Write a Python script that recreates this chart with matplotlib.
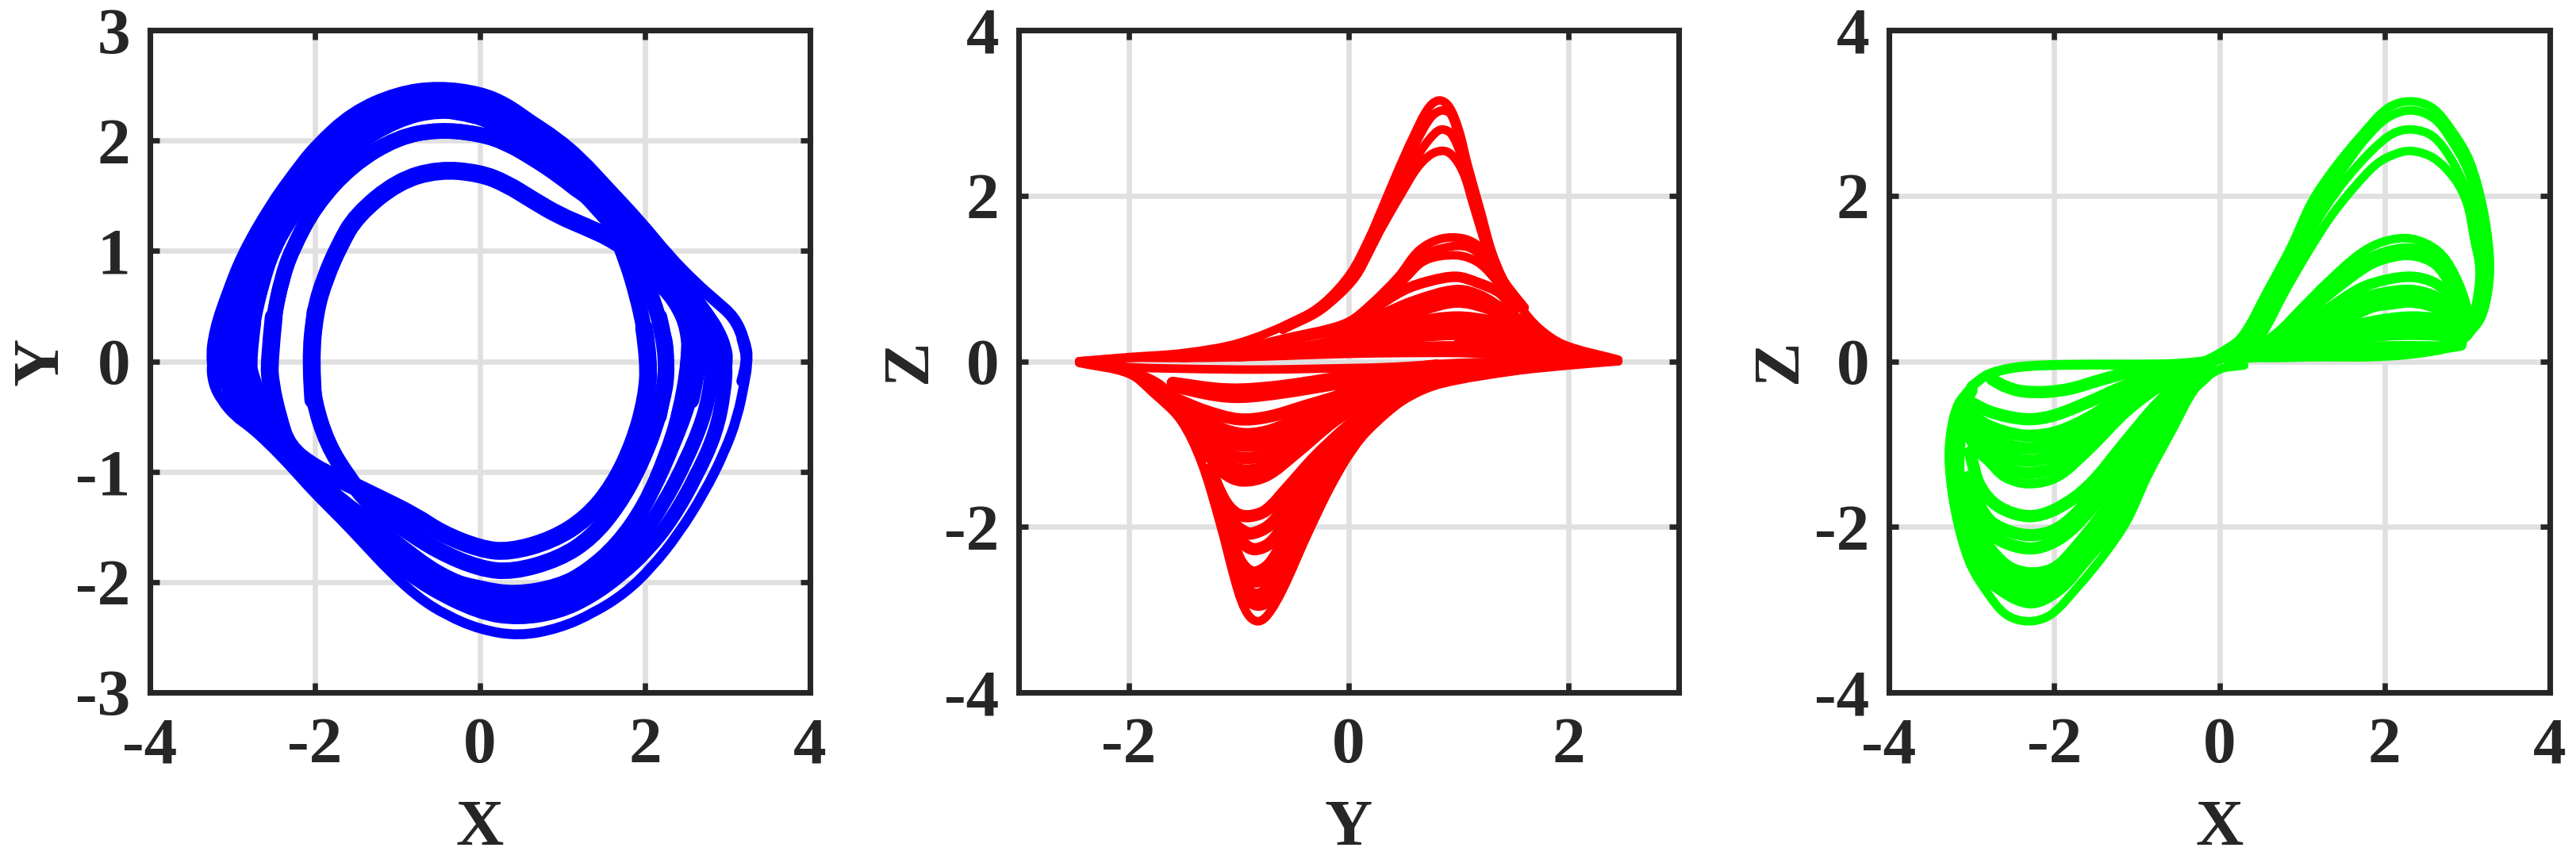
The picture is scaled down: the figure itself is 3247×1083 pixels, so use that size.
import math
import matplotlib
matplotlib.use("Agg")
import matplotlib.pyplot as plt
from matplotlib.path import Path
from matplotlib.patches import PathPatch

plt.rcParams['font.family'] = ['Liberation Serif', 'DejaVu Serif']
plt.rcParams['font.weight'] = 'bold'

# ---------- Panel 1: X-Y, upper arcs then lower arcs ----------
xy_top_x = [
 [-3.2,-3.26,-3.21,-3.06,-2.87,-2.53,-2.25,-2.0,-1.55,-1.0,-.5,0,.32,.62,.93,1.23,1.55,1.95,2.29,2.62,2.85,3.08,3.2,3.25,3.18],
 [-3.05,-3.11,-3.05,-2.92,-2.75,-2.42,-2.0,-1.55,-1.0,-.5,0,.3,.6,.9,1.2,1.5,1.9,2.22,2.55,2.75,2.88,2.96,2.98,2.93],
 [-2.88,-2.95,-2.9,-2.77,-2.62,-2.3,-2.0,-1.55,-1.0,-.5,0,.28,.58,.88,1.17,1.48,1.85,2.17,2.47,2.65,2.76,2.81,2.83,2.8],
 [-2.76,-2.8,-2.74,-2.63,-2.5,-2.3,-2.0,-1.55,-1.0,-.5,0,.3,.6,.9,1.2,1.5,1.85,2.15,2.4,2.55,2.65,2.55],
 [-.5,0,.22,.52,.82,1.1,1.42,1.75,2.05,2.3,2.46,2.52,2.54,2.5],
 [-2.54,-2.555,-2.5,-2.4,-2.285,-2.0,-1.55,-1.0,-.5,0,.32,.64,.96,1.23,1.42,1.62,1.78,1.9,1.99,2.05,2.02],
 [-2.54,-2.555,-2.5,-2.4,-2.285,-2.0,-1.55,-1.0,-.5,0,.32,.64,.96,1.42,1.75,2.0,2.17,2.3,2.17],
 [-2.02,-2.055,-2.0,-1.88,-1.705,-1.5,-1.0,-.5,0,.32,.64,.96,1.28,1.63,2.1,2.45,2.6,2.66,2.55],
]
xy_top_y = [
 [-.22,0,.29,.62,.98,1.42,1.71,1.95,2.26,2.44,2.49,2.44,2.34,2.18,2.03,1.84,1.58,1.26,.95,.70,.55,.40,.2,0,-.18],
 [-.2,0,.32,.65,1.0,1.42,1.82,2.16,2.34,2.4,2.35,2.25,2.1,1.95,1.77,1.53,1.2,.9,.62,.42,.27,.12,0,-.28],
 [-.25,0,.32,.65,1.0,1.4,1.7,2.05,2.26,2.33,2.28,2.18,2.03,1.88,1.7,1.47,1.15,.85,.55,.37,.22,.1,0,-.2],
 [-.15,0,.35,.7,1.0,1.27,1.59,1.93,2.18,2.27,2.22,2.13,2.0,1.85,1.65,1.4,1.08,.78,.48,.25,0,-.35],
 [2.27,2.22,2.1,1.96,1.8,1.62,1.38,1.08,.78,.6,.4,.2,0,-.2],
 [-.2,0,.4,.75,1,1.41,1.78,2.03,2.1,2.06,1.98,1.84,1.68,1.52,1.44,1.2,.9,.6,.3,0,-.33],
 [-.2,0,.4,.75,1,1.41,1.78,2.03,2.1,2.06,1.98,1.84,1.7,1.45,1.1,.75,.4,0,-.5],
 [-.35,0,.45,.75,1.05,1.32,1.63,1.74,1.705,1.61,1.46,1.32,1.22,1.1,.85,.55,.25,0,-.35],
]
xy_bot_x = [
 [3.17,3.25,3.21,3.12,2.96,2.72,2.4,2.08,1.76,1.38,.96,.47,0,-.41,-.75,-1.1,-1.4,-1.65,-2.0,-2.3,-2.56,-2.78,-2.97,-3.13,-3.24,-3.26,-3.18],
 [2.93,2.98,2.96,2.86,2.63,2.33,2.02,1.7,1.35,.96,.47,0,-.63,-1.07,-1.48,-1.9,-2.2,-2.5,-2.75,-2.95,-3.08,-3.11,-3.05],
 [2.81,2.83,2.8,2.72,2.5,2.22,1.95,1.65,1.33,.95,.47,0,-.6,-1.05,-1.45,-1.85,-2.15,-2.45,-2.72,-2.88,-2.95,-2.9],
 [2.62,2.66,2.55,2.35,2.1,1.87,1.62,1.3,.95,.45,0,-.5,-.95,-1.3,-1.7,-2.0,-2.35,-2.62,-2.76,-2.8,-2.74],
 [2.52,2.52,2.41,2.25,1.99,1.65,1.28,.95,.43,0,-.5,-.95,-1.3,-1.7],
 [2.17,2.3,2.17,1.95,1.68,1.35,.96,.4,0,-.51,-.96,-1.34,-1.6,-1.85,-2.02,-2.055,-2.0],
 [1.99,2.05,2.02,1.87,1.62,1.3,.88,.35,0,-.47,-.79,-1.28,-1.64,-2.0,-2.33,-2.45,-2.54,-2.555,-2.5],
]
xy_bot_y = [
 [.2,0,-.18,-.51,-.83,-1.19,-1.57,-1.87,-2.1,-2.28,-2.42,-2.49,-2.43,-2.3,-2.14,-1.9,-1.66,-1.46,-1.2,-.95,-.75,-.6,-.5,-.36,-.2,0,.29],
 [.12,0,-.28,-.65,-1.03,-1.43,-1.72,-1.94,-2.13,-2.27,-2.33,-2.28,-2.05,-1.8,-1.5,-1.25,-1.0,-.75,-.55,-.38,-.2,0,.32],
 [.1,0,-.2,-.5,-.9,-1.3,-1.6,-1.84,-2.03,-2.17,-2.23,-2.18,-1.95,-1.7,-1.42,-1.15,-.92,-.68,-.45,-.25,0,.32],
 [.1,0,-.35,-.75,-1.17,-1.48,-1.72,-1.93,-2.07,-2.13,-2.08,-1.93,-1.68,-1.47,-1.25,-1.05,-.72,-.42,-.15,0,.35],
 [.2,0,-.47,-.85,-1.3,-1.66,-1.9,-2.03,-2.1,-2.05,-1.95,-1.68,-1.47,-1.25],
 [.4,0,-.5,-.93,-1.3,-1.6,-1.79,-1.91,-1.88,-1.72,-1.5,-1.3,-1.05,-.75,-.35,0,.45],
 [.3,0,-.33,-.74,-1.13,-1.42,-1.62,-1.73,-1.7,-1.56,-1.4,-1.22,-1.09,-.97,-.78,-.5,-.2,0,.4],
]
xy_top_lw = [3.6, 4.6, 4.6, 3.8, 4.0, 4.7, 4.7, 5.4]
xy_bot_lw = [3.0, 4.4, 4.4, 4.4, 4.0, 5.0, 5.4]

# ---------- Panel 2: Y-Z ----------
yz_up_y = [
 [-2.45,-2,-1.5,-1,-.47,-.23,.01,.18,.32,.46,.59,.72,.82,.91,1.0,1.08,1.2,1.3,1.42,1.56,1.73,1.96,2.45],
 [-.6,-.25,.03,.2,.34,.48,.62,.75,.85,.93,1.0,1.08,1.18,1.28,1.4,1.55],
 [-.6,-.25,.04,.21,.37,.52,.66,.78,.85,.93,1.02,1.1,1.18,1.28,1.4],
 [-.6,-.25,.01,.17,.35,.49,.62,.75,.87,.96,1.05,1.13,1.27,1.38],
 [-.3,0,.21,.45,.64,.84,1.05,1.2,1.32,1.45,1.6],
 [-.3,0,.25,.48,.67,.9,1.08,1.22,1.38,1.5],
 [0,.28,.5,.7,.98,1.18,1.38],
 [0,.21,.5,.74,.98,1.17,1.38,1.5],
 [-.1,.3,.6,.98,1.2,1.42,1.6],
 [-.1,.3,.65,.98,1.25,1.45,1.65],
 [-.3,.2,.6,.98,1.3,1.5,1.7],
 [-.3,.2,.6,.98,1.3,1.55,1.75],
 [-.4,.2,.6,.98,1.3,1.55,1.8],
 [-.5,.2,.6,1.0,1.5,1.8],
 [-2.45,-2,-1.5,-1,-.5,0,.5,1,1.5,2,2.45],
 [-1.5,-1,-.5,0,.3],
 [-1,-.5,0,.3],
 [1.3,1.6,1.9,2.3],
 [1.0,1.5,1.8,2.2],
]
yz_up_z = [
 [0,.05,.1,.22,.5,.7,1.05,1.47,1.9,2.34,2.72,3.05,3.15,3.08,2.8,2.38,1.81,1.33,.95,.66,.4,.2,.02],
 [.42,.66,1.0,1.42,1.85,2.28,2.66,2.95,3.03,2.98,2.7,2.3,1.81,1.33,.95,.66],
 [.4,.63,.98,1.38,1.82,2.22,2.55,2.75,2.8,2.75,2.5,2.2,1.85,1.33,.95],
 [.38,.62,.96,1.31,1.73,2.05,2.33,2.5,2.54,2.46,2.25,1.9,1.3,.95],
 [.35,.48,.7,1.02,1.34,1.48,1.48,1.37,1.15,.9,.65],
 [.33,.46,.7,1.0,1.27,1.38,1.38,1.25,.95,.72],
 [.44,.7,.98,1.22,1.28,1.19,.92],
 [.42,.62,.86,.97,1.02,.95,.82,.6],
 [.3,.55,.72,.85,.78,.6,.45],
 [.28,.48,.62,.72,.65,.52,.4],
 [.18,.35,.47,.53,.48,.4,.3],
 [.16,.3,.38,.43,.4,.33,.25],
 [.13,.24,.3,.33,.31,.27,.2],
 [.1,.14,.16,.17,.15,.1],
 [0,.04,.04,.05,.07,.09,.1,.1,.08,.06,.01],
 [.06,.13,.28,.42,.52],
 [.07,.14,.26,.34],
 [.3,.3,.15,.04],
 [.2,.2,.15,.03],
]
yz_up_lw = [2.6, 2.6, 2.6, 2.6, 2.6, 2.6, 2.6, 3.2, 3.7, 3.7, 3.7, 3.7, 3.7, 3.7, 2.6, 3.7, 3.7, 3.7, 3.7]
yz_lo_y = [
 [-2.45,-2,-1.78,-1.53,-1.34,-1.17,-1.01,-.92,-.83,-.74,-.6,-.36,-.15,.07,.31,.55,.85,1.5,2,2.45],
 [-1.22,-1.11,-1.0,-.93,-.83,-.72,-.6,-.4,-.2,0,.3,.8],
 [-1.22,-1.1,-1.0,-.93,-.83,-.72,-.6,-.42,-.22,0,.3,.8],
 [-1.23,-1.1,-1.0,-.92,-.84,-.72,-.6,-.45,-.25,0,.3,.8],
 [-1.25,-1.12,-1.0,-.92,-.84,-.72,-.6,-.45,-.25,0,.3,.8],
 [-1.25,-1.13,-1.02,-.94,-.85,-.72,-.6,-.4,-.2,0,.3,.8],
 [-1.25,-1.14,-1.05,-.96,-.88,-.72,-.58,-.4,-.2,0,.3,.8],
 [-1.26,-1.13,-1.02,-.9,-.75,-.55,-.3,0,.3,.8],
 [-1.38,-1.26,-1.13,-.97,-.75,-.49,-.13,.14,.5],
 [-1.42,-1.27,-1.1,-.92,-.7,-.45,-.1,.15,.5],
 [-1.45,-1.27,-1.1,-.92,-.7,-.45,-.1,.15,.5],
 [-1.5,-1.3,-1.1,-.92,-.7,-.45,-.1,.15,.5],
 [-1.5,-1.3,-1.1,-.92,-.7,-.45,-.1,.15,.5],
 [-1.58,-1.3,-1,-.73,-.37,.12,.5],
 [-1.6,-1.21,-.97,-.61,-.1,.3,.8],
 [-1.6,-1.21,-.97,-.61,-.1,.3,.8],
 [-2.45,-2,-1.5,-.85,-.3,.35,1,1.5,2,2.45],
 [-2,-1.72,-1.58,-1.4,-1.3],
 [0,.4,.8,1.3,1.8],
 [.2,.6,1.0,1.5],
]
yz_lo_z = [
 [-.02,-.15,-.38,-.71,-1.22,-1.96,-2.76,-3.05,-3.14,-3.07,-2.76,-2.05,-1.48,-1.0,-.67,-.43,-.27,-.12,-.05,0],
 [-1.6,-2.1,-2.6,-2.85,-2.94,-2.88,-2.6,-2.1,-1.55,-1.1,-.62,-.22],
 [-1.55,-2.05,-2.55,-2.75,-2.82,-2.72,-2.47,-2.05,-1.55,-1.05,-.6,-.22],
 [-1.5,-1.98,-2.45,-2.6,-2.66,-2.57,-2.3,-1.98,-1.5,-1.02,-.58,-.22],
 [-1.45,-1.93,-2.38,-2.52,-2.55,-2.45,-2.2,-1.9,-1.42,-.98,-.55,-.22],
 [-1.45,-1.85,-2.08,-2.22,-2.27,-2.2,-2.0,-1.55,-1.15,-.85,-.52,-.2],
 [-1.4,-1.75,-1.95,-2.05,-2.08,-1.98,-1.75,-1.42,-1.05,-.8,-.5,-.2],
 [-1.3,-1.68,-1.84,-1.87,-1.8,-1.52,-1.15,-.78,-.48,-.2],
 [-.95,-1.15,-1.35,-1.44,-1.38,-1.12,-.72,-.5,-.28],
 [-.85,-1.08,-1.26,-1.32,-1.24,-1.0,-.6,-.42,-.22],
 [-.75,-.98,-1.12,-1.17,-1.1,-.9,-.55,-.38,-.2],
 [-.6,-.82,-.97,-1.02,-.96,-.78,-.48,-.34,-.18],
 [-.55,-.72,-.84,-.88,-.83,-.68,-.42,-.3,-.15],
 [-.45,-.6,-.7,-.67,-.53,-.34,-.2],
 [-.3,-.41,-.43,-.38,-.27,-.18,-.08],
 [-.26,-.33,-.34,-.3,-.2,-.13,-.05],
 [0,-.07,-.09,-.1,-.09,-.07,-.02,0,.02,0],
 [-.12,-.3,-.55,-.9,-1.15],
 [-.42,-.22,-.13,-.06,-.02],
 [-.5,-.3,-.18,-.09],
]
yz_lo_lw = [2.6, 3.7, 3.7, 3.7, 3.7, 3.7, 3.7, 3.7, 3.7, 3.7, 3.7, 3.7, 3.7, 3.7, 3.7, 3.7, 2.6, 3.7, 3.7, 3.7]

# ---------- Panel 3: X-Z ----------
xz_up_x = [
 [-.3,0,.27,.58,.87,1.12,1.39,1.71,2.04,2.31,2.58,2.82,3.03,3.19,3.27,3.26,3.17,3.0],
 [.1,.35,.65,.95,1.2,1.48,1.78,2.05,2.33,2.6,2.8,3.0,3.14,3.2,3.15,3.0],
 [.2,.42,.72,1.0,1.28,1.55,1.85,2.1,2.33,2.58,2.8,2.97,3.1,3.18,3.12,3.0],
 [.28,.5,.8,1.08,1.35,1.63,1.9,2.12,2.33,2.6,2.85,3.0,3.08,3.15,3.1,3.0],
 [.1,.35,.7,1.0,1.3,1.7,2.0,2.33,2.65,2.85,3.0,3.03,2.95],
 [.1,.4,.75,1.05,1.35,1.75,2.05,2.33,2.62,2.82,2.97,3.0,2.93],
 [.1,.45,.8,1.1,1.4,1.8,2.05,2.33,2.6,2.78,2.93,2.97,2.9],
 [.1,.5,.9,1.3,1.7,2.0,2.33,2.6,2.8,2.93,2.96,2.88],
 [.1,.6,1.0,1.4,1.75,2.05,2.33,2.6,2.8,2.93,2.88],
 [.1,.65,1.1,1.5,1.85,2.1,2.33,2.6,2.8,2.9,2.88],
 [.1,.7,1.2,1.6,2.0,2.33,2.65,2.85,2.9],
 [.1,.72,1.2,1.6,2.0,2.33,2.65,2.85,2.9],
 [.1,.75,1.25,1.65,2.0,2.33,2.65,2.85,2.9],
 [.3,.9,1.3,1.7,2.1,2.4,2.7,2.92],
 [2.95,2.7,2.35,1.9,1.3,.7,.2],
 [3.0,2.7,2.3,1.8,1.2,.6,.15,0],
]
xz_up_z = [
 [-.05,.1,.3,.85,1.39,1.93,2.33,2.72,3.06,3.14,3.06,2.78,2.42,1.86,1.29,.9,.53,.3],
 [.1,.3,.85,1.39,1.9,2.3,2.7,2.95,3.03,2.93,2.68,2.32,1.8,1.25,.7,.3],
 [.1,.3,.85,1.37,1.85,2.22,2.55,2.75,2.8,2.72,2.45,2.1,1.65,1.2,.7,.3],
 [.1,.3,.85,1.33,1.75,2.1,2.38,2.5,2.54,2.45,2.2,1.9,1.5,1.1,.65,.3],
 [.04,.12,.35,.65,.95,1.3,1.45,1.48,1.33,1.05,.65,.38,.25],
 [.04,.12,.35,.65,.92,1.22,1.34,1.37,1.26,1.0,.62,.38,.25],
 [.04,.12,.33,.6,.85,1.14,1.24,1.27,1.17,.93,.6,.37,.25],
 [.04,.12,.33,.62,.88,.98,1.02,.95,.78,.55,.35,.24],
 [.04,.12,.33,.58,.76,.83,.85,.78,.64,.42,.24],
 [.04,.12,.3,.5,.66,.7,.72,.66,.53,.38,.24],
 [.04,.12,.3,.42,.5,.53,.5,.4,.25],
 [.04,.1,.25,.35,.41,.43,.41,.35,.25],
 [.04,.1,.2,.28,.32,.33,.32,.3,.25],
 [.05,.12,.14,.16,.17,.17,.17,.2],
 [.24,.14,.1,.08,.07,.05,.06],
 [.3,.15,.08,.05,.05,.04,.05,.03],
]
xz_up_lw = [2.6, 2.6, 2.6, 2.6, 2.6, 2.6, 2.6, 3.2, 3.7, 3.7, 3.7, 3.7, 3.7, 3.7, 2.6, 2.6]
xz_lo_x = [
 [-3.0,-3.17,-3.26,-3.27,-3.19,-3.03,-2.82,-2.58,-2.31,-2.04,-1.71,-1.39,-1.12,-.87,-.58,-.27,0,.3],
 [-3.18,-3.08,-2.94,-2.76,-2.31,-1.96,-1.62,-1.29,-1.0,-.7,-.4,-.1],
 [-3.1,-2.98,-2.75,-2.31,-1.9,-1.6,-1.3,-1.05,-.75,-.45,-.15],
 [-3.1,-2.95,-2.75,-2.31,-1.85,-1.55,-1.3,-1.05,-.78,-.5,-.2],
 [-3.08,-2.92,-2.6,-2.31,-2.0,-1.74,-1.32,-1.05,-.8,-.5,-.2],
 [-3.1,-2.99,-2.76,-2.31,-1.93,-1.55,-1.2,-.81,-.5,-.2],
 [-3.05,-2.9,-2.72,-2.31,-1.93,-1.5,-1.2,-.85,-.5,-.2],
 [-3.02,-2.9,-2.68,-2.31,-1.97,-1.58,-1.1,-.75,-.4,-.1],
 [-3.05,-2.94,-2.8,-2.6,-2.31,-1.96,-1.58,-1.1,-.62,-.2],
 [-3.0,-2.85,-2.6,-2.31,-1.96,-1.58,-1.1,-.62,-.2],
 [-3.05,-2.85,-2.6,-2.31,-1.96,-1.58,-1.1,-.62,-.2],
 [-3.05,-2.85,-2.6,-2.31,-1.96,-1.58,-1.1,-.62,-.2],
 [-3.05,-2.85,-2.6,-2.31,-1.96,-1.58,-1.1,-.62,-.2],
 [-3.0,-2.8,-2.55,-2.28,-1.99,-1.58,-1.1,-.62,-.2],
 [-2.75,-2.6,-2.4,-2.1,-1.8,-1.42,-1,-.5],
 [-3.0,-2.8,-2.5,-2.15,-1.5,-1,-.5,0],
 [-3.0,-3.1,-3.14,-3.16,-3.12],
]
xz_lo_z = [
 [-.3,-.53,-.9,-1.29,-1.86,-2.42,-2.78,-3.06,-3.14,-3.06,-2.72,-2.33,-1.93,-1.39,-.85,-.3,-.1,-.05],
 [-1.5,-2.1,-2.5,-2.68,-2.91,-2.77,-2.4,-2.0,-1.5,-.95,-.42,-.12],
 [-1.8,-2.3,-2.6,-2.82,-2.7,-2.3,-1.9,-1.45,-.95,-.45,-.12],
 [-1.7,-2.15,-2.45,-2.68,-2.52,-2.2,-1.8,-1.38,-.9,-.42,-.12],
 [-1.6,-2.05,-2.45,-2.56,-2.5,-2.25,-1.72,-1.3,-.85,-.4,-.12],
 [-1.5,-1.8,-2.1,-2.26,-2.14,-1.78,-1.3,-.72,-.3,-.08],
 [-1.4,-1.75,-1.97,-2.1,-2.0,-1.58,-1.2,-.72,-.3,-.08],
 [-1.1,-1.5,-1.75,-1.87,-1.78,-1.5,-.93,-.52,-.2,-.06],
 [-.9,-1.08,-1.21,-1.4,-1.48,-1.4,-1.08,-.6,-.25,-.05],
 [-.85,-1.1,-1.28,-1.35,-1.27,-1.0,-.55,-.22,-.05],
 [-.8,-.98,-1.13,-1.2,-1.12,-.9,-.5,-.2,-.05],
 [-.7,-.88,-1.0,-1.05,-.98,-.78,-.45,-.18,-.05],
 [-.6,-.75,-.85,-.9,-.85,-.68,-.38,-.16,-.05],
 [-.5,-.6,-.67,-.7,-.65,-.49,-.28,-.12,-.04],
 [-.22,-.3,-.36,-.37,-.33,-.22,-.11,-.05],
 [-.3,-.16,-.08,-.05,-.04,-.04,-.03,.02],
 [-.35,-.55,-.9,-1.3,-1.7],
]
xz_lo_lw = [2.6, 3.7, 3.7, 3.7, 3.7, 3.7, 3.7, 3.7, 2.8, 3.7, 3.7, 3.7, 3.7, 3.7, 3.7, 3.0, 3.7]

# ---------- axes furniture ----------
ticks_wide = [-4, -2, 0, 2, 4]
ticks_y1 = [-3, -2, -1, 0, 1, 2, 3]
ticks_y2 = [-2, 0, 2]
BLUE, RED, GREEN = '#0000FF', '#FF0000', '#00FF00'
DARK = '#262626'
W, H = 3247, 1083

fig = plt.figure(figsize=(W / 300, H / 300), dpi=300)
boxes = [(189, 1021), (1284, 2116), (2381, 3214)]
TOP, BOT = 38, 873


def make_axes(box, xl, yl, xt, yt, xlab, ylab):
    ax = fig.add_axes([box[0] / W, 1 - BOT / H, (box[1] - box[0]) / W, (BOT - TOP) / H])
    ax.set_xlim(*xl)
    ax.set_ylim(*yl)
    ax.set_xticks(xt)
    ax.set_yticks(yt)
    ax.set_xticklabels([str(t) for t in xt])
    ax.set_yticklabels([str(t) for t in yt])
    ax.grid(True, color='#e0e0e0', lw=1.6, zorder=0)
    ax.set_axisbelow(True)
    ax.tick_params(direction='in', top=True, right=True, length=2.9, width=1.6,
                   color=DARK, labelcolor=DARK, labelsize=20)
    ax.tick_params(axis='x', pad=7.5)
    ax.tick_params(axis='y', pad=6)
    for s in ax.spines.values():
        s.set_linewidth(1.7)
        s.set_color(DARK)
        s.set_zorder(10)
    ax.set_xlabel(xlab, fontsize=20, fontweight='bold', color=DARK, labelpad=7)
    ax.set_ylabel(ylab, fontsize=20, fontweight='bold', color=DARK, labelpad=1)
    return ax


def stroke_through(ax, x, y, color, lw):
    """Stroke a curve passing through every read-off point, tangents scaled to segment length."""
    n = len(x)

    def tangent(i):
        a, b = max(i - 1, 0), min(i + 1, n - 1)
        dx, dy = x[b] - x[a], y[b] - y[a]
        d = math.hypot(dx, dy) or 1.0
        return dx / d, dy / d

    verts = [(x[0], y[0])]
    codes = [Path.MOVETO]
    for i in range(n - 1):
        seg = math.hypot(x[i + 1] - x[i], y[i + 1] - y[i]) / 3
        t0, t1 = tangent(i), tangent(i + 1)
        verts.append((x[i] + t0[0] * seg, y[i] + t0[1] * seg))
        verts.append((x[i + 1] - t1[0] * seg, y[i + 1] - t1[1] * seg))
        verts.append((x[i + 1], y[i + 1]))
        codes += [Path.CURVE4, Path.CURVE4, Path.CURVE4]
    ax.add_patch(PathPatch(Path(verts, codes), fill=False, edgecolor=color, lw=lw,
                           joinstyle='round', capstyle='round', zorder=3))


def stroke_guided(ax, x, y, color, lw):
    """Stroke a smooth curve guided by the read-off points (quadratic segments)."""
    verts = [(x[0], y[0])]
    codes = [Path.MOVETO]
    for i in range(1, len(x) - 1):
        end = ((x[i] + x[i + 1]) / 2, (y[i] + y[i + 1]) / 2) if i < len(x) - 2 else (x[-1], y[-1])
        verts += [(x[i], y[i]), end]
        codes += [Path.CURVE3, Path.CURVE3]
    ax.add_patch(PathPatch(Path(verts, codes), fill=False, edgecolor=color, lw=lw,
                           joinstyle='round', capstyle='round', zorder=3))


def draw(ax, xs, ys, color, widths, stroke):
    for a, b, w in zip(xs, ys, widths):
        stroke(ax, a, b, color, w)


ax1 = make_axes(boxes[0], (-4, 4), (-3, 3), ticks_wide, ticks_y1, 'X', 'Y')
draw(ax1, xy_top_x, xy_top_y, BLUE, xy_top_lw, stroke_guided)
draw(ax1, xy_bot_x, xy_bot_y, BLUE, xy_bot_lw, stroke_guided)

ax2 = make_axes(boxes[1], (-3, 3), (-4, 4), ticks_y2, ticks_wide, 'Y', 'Z')
draw(ax2, yz_up_y, yz_up_z, RED, yz_up_lw, stroke_through)
draw(ax2, yz_lo_y, yz_lo_z, RED, yz_lo_lw, stroke_through)

ax3 = make_axes(boxes[2], (-4, 4), (-4, 4), ticks_wide, ticks_wide, 'X', 'Z')
draw(ax3, xz_up_x, xz_up_z, GREEN, xz_up_lw, stroke_through)
draw(ax3, xz_lo_x, xz_lo_z, GREEN, xz_lo_lw, stroke_through)

fig.savefig('out.png', dpi=300, facecolor='white')
